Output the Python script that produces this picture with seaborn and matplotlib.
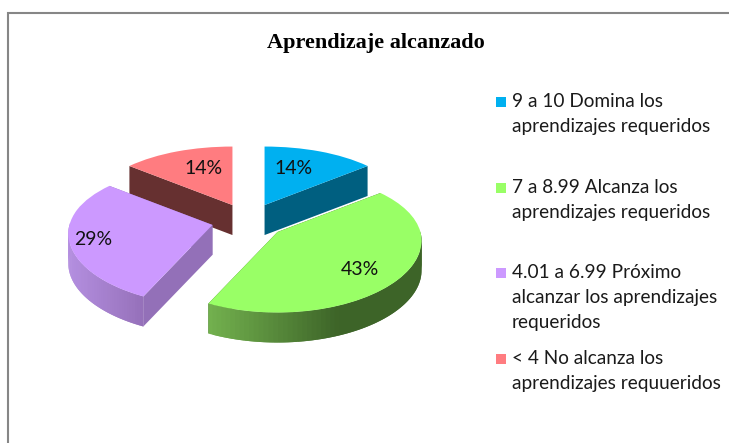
import numpy as np
import seaborn as sns
import matplotlib.pyplot as plt
import matplotlib.transforms as mtransforms
from matplotlib.colors import to_rgb

# datos del grafico
categorias = [
    "9 a 10 Domina los\naprendizajes requeridos",
    "7 a 8.99 Alcanza los\naprendizajes requeridos",
    "4.01 a 6.99 Próximo\nalcanzar los aprendizajes\nrequeridos",
    "< 4 No alcanza los\naprendizajes requueridos",
]
alumnos = [1, 3, 2, 1]
titulo = "Aprendizaje alcanzado"

colores = ["#00B0F0", "#99FF66", "#CC99FF", "#FF7C80"]
colores_pared = ["#005F80", "#3F6A29", "#9370B8", "#663030"]
# degradado de la pared curva: izquierda, derecha
pared_izq = ["#00779F", "#72B04E", "#B48FE0", "#8A4040"]
pared_der = ["#005F80", "#3D6428", "#9570B9", "#663030"]
orden_dibujo = [3, 0, 2, 1]
dist_etiqueta = [0.62, 0.736, 0.84, 0.62]
giro_etiqueta = [5, -4.2, 1.5, -5]

# vista 3D del pastel, en pixeles
CX, CY = 248.5, 221
EXPLOTA_X, EXPLOTA_Y = 37, 17.7
RX, RX_PERSP = 143, 18
RY, RY_PERSP = 69.5, 11
PROFUNDIDAD = 30


class VistaPorcion(mtransforms.Transform):
    input_dims = 2
    output_dims = 2

    def __init__(self, vertice):
        super().__init__()
        self.vertice = vertice

    def transform_non_affine(self, values):
        x, y = np.asarray(values, dtype=float).T
        return np.column_stack([
            self.vertice[0] + x * (RX - RX_PERSP * y),
            self.vertice[1] - y * (RY - RY_PERSP * y),
        ])


sns.set_theme(style="white")
plt.rcParams["font.family"] = ["Lato", "DejaVu Sans"]

fig = plt.figure(figsize=(7.29, 4.43), dpi=100, facecolor="white")
ax = fig.add_axes([0, 0, 1, 1])

wedges, _, autotexts = ax.pie(
    alumnos,
    colors=sns.color_palette(colores),
    startangle=90,
    counterclock=False,
    autopct="%.0f%%",
    wedgeprops={"linewidth": 0},
)
ax.set_aspect("auto")
ax.set_xlim(0, 729)
ax.set_ylim(443, 0)

for z, i in enumerate(orden_dibujo):
    w = wedges[i]
    medio = np.deg2rad((w.theta1 + w.theta2) / 2)
    vertice = (CX + EXPLOTA_X * np.cos(medio), CY - EXPLOTA_Y * np.sin(medio))
    vista = VistaPorcion(vertice)
    nivel = 2 + 2 * z

    w.set_transform(vista + ax.transData)
    w.set_zorder(nivel + 1)

    # paredes rectas
    for ang in (w.theta1, w.theta2):
        a = np.deg2rad(ang)
        p = vista.transform_non_affine(np.array([[0, 0], [np.cos(a), np.sin(a)]]))
        ax.fill(
            [p[0, 0], p[1, 0], p[1, 0], p[0, 0]],
            [p[0, 1], p[1, 1], p[1, 1] + PROFUNDIDAD, p[0, 1] + PROFUNDIDAD],
            color=colores_pared[i], lw=0, zorder=nivel,
        )

    # pared curva por tiras solapadas, solo la parte delantera
    angulos = np.deg2rad(np.linspace(w.theta1, w.theta2, 90))
    angulos = angulos[np.sin(angulos) < 0.03]
    if len(angulos) > 1:
        arco = vista.transform_non_affine(np.column_stack([np.cos(angulos), np.sin(angulos)]))
        xmin, xmax = arco[:, 0].min(), arco[:, 0].max()
        tramo = 0.6 if i == 1 else 1.0
        for k in range(len(arco) - 1):
            t = min(1, (arco[k, 0] - xmin) / ((xmax - xmin) * tramo))
            col = (1 - t) * np.array(to_rgb(pared_izq[i])) + t * np.array(to_rgb(pared_der[i]))
            sig = min(k + 2, len(arco) - 1)
            ax.fill(
                [arco[k, 0], arco[sig, 0], arco[sig, 0], arco[k, 0]],
                [arco[k, 1], arco[sig, 1], arco[sig, 1] + PROFUNDIDAD, arco[k, 1] + PROFUNDIDAD],
                color=col, lw=0, zorder=nivel,
            )

    # etiqueta de porcentaje
    ang_etq = medio + np.deg2rad(giro_etiqueta[i])
    pos = dist_etiqueta[i] * np.array([[np.cos(ang_etq), np.sin(ang_etq)]])
    px, py = vista.transform_non_affine(pos)[0]
    autotexts[i].set_position((px, py))
    autotexts[i].set_fontsize(14)
    autotexts[i].set_color("#111111")
    autotexts[i].set_zorder(30)

# leyenda
for i, (texto, color) in enumerate(zip(categorias, colores)):
    y = 102 + i * 85.7
    ax.scatter(501.5, y, marker="s", s=62, color=color, linewidths=0, zorder=5)
    ax.text(512, y - 9, texto, fontsize=13.7, color="#1a1a1a", va="top", ha="left",
            linespacing=1.56)

ax.text(375.5, 43, titulo, fontsize=16, fontweight="bold", family="Liberation Serif",
        color="black", ha="center", va="center")

# borde del area del grafico
ax.plot([8, 8, 740], [450, 13, 13], color="#868686", lw=1.5, solid_joinstyle="miter", zorder=1)

fig.savefig("out.png", dpi=100)
